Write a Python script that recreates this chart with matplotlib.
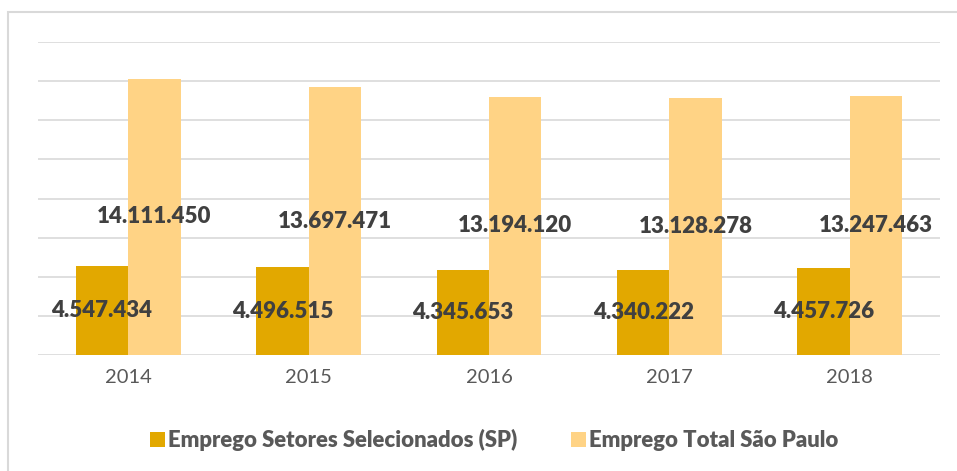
import matplotlib
matplotlib.use("Agg")
import matplotlib.pyplot as plt
import numpy as np
from matplotlib.patches import Rectangle

years = ["2014", "2015", "2016", "2017", "2018"]
emprego_setores = [4547434, 4496515, 4345653, 4340222, 4457726]
emprego_total = [14111450, 13697471, 13194120, 13128278, 13247463]
series_names = ["Emprego Setores Selecionados (SP)", "Emprego Total São Paulo"]

c_sel = "#E2A800"
c_tot = "#FFD385"
fam = ["Lato", "DejaVu Sans"]

W, H = 957, 471
fig = plt.figure(figsize=(W / 100, H / 100), dpi=100)
fig.patch.set_facecolor("white")
fig.add_artist(Rectangle((8 / W, -0.1), 1.2, 1 - 12 / H + 0.1, transform=fig.transFigure,
                         fill=False, edgecolor="#D9D9D9", linewidth=1.5))

ax = fig.add_axes([38 / W, 1 - 355 / H, (940 - 38) / W, (355 - 42) / H])
x = np.arange(len(years))
bw = 0.29
b1 = ax.bar(x - bw / 2, emprego_setores, bw, color=c_sel, label=series_names[0], zorder=2)
b2 = ax.bar(x + bw / 2, emprego_total, bw, color=c_tot, label=series_names[1], zorder=2)

def fmt(v):
    return f"{v:,}".replace(",", ".")

for bars, vals in ((b1, emprego_setores), (b2, emprego_total)):
    for r, v in zip(bars, vals):
        ax.text(r.get_x() + r.get_width() / 2, v / 2, fmt(v), ha="center", va="center",
                fontsize=16, fontweight="heavy", color="#404040", family=fam, zorder=3)

ax.set_xlim(-0.5, 4.5)
ax.set_ylim(0, 16000000)
ax.set_yticks(np.arange(0, 16000001, 2000000))
ax.yaxis.grid(True, color="#D9D9D9", linewidth=1.2, zorder=0)
ax.set_yticklabels([])
ax.tick_params(axis="y", length=0)
ax.tick_params(axis="x", length=0, pad=10)
ax.set_xticks(x)
ax.set_xticklabels(years, fontsize=14.5, color="#595959", family=fam)
for s in ax.spines.values():
    s.set_visible(False)
ax.set_axisbelow(True)

fs = 15.9
fpx = fs * 100 / 72
leg = fig.legend(handles=[b1, b2], labels=series_names, loc="center left",
                 bbox_to_anchor=((150 - 0.4 * fpx) / W, 1 - 440 / H), borderaxespad=0,
                 ncol=2, frameon=False, handlelength=0.68, handleheight=0.68, columnspacing=2.4,
                 handletextpad=0.15, prop={"family": fam, "weight": "heavy", "size": fs})
for t in leg.get_texts():
    t.set_color("#595959")

fig.savefig("out.png", dpi=100)
